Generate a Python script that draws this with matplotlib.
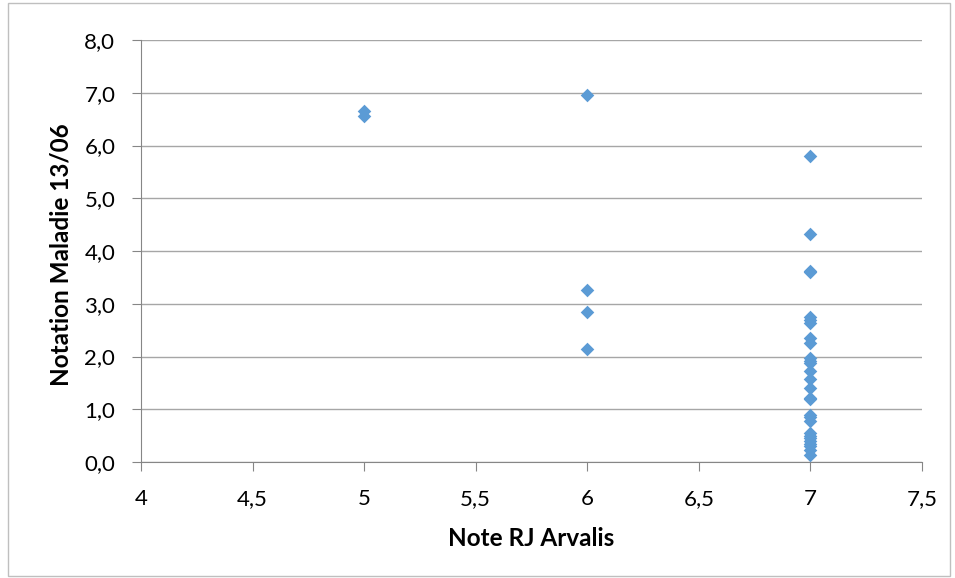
import matplotlib
matplotlib.use("Agg")
import matplotlib.pyplot as plt
from matplotlib.patches import Rectangle

x5 = [5, 5]
y5 = [6.65, 6.55]
x6 = [6, 6, 6, 6]
y6 = [6.95, 3.27, 2.85, 2.14]
y7 = [5.8, 4.32, 3.62, 3.6, 2.75, 2.7, 2.63, 2.35, 2.25, 1.97, 1.92, 1.88,
      1.72, 1.58, 1.4, 1.22, 1.2, 0.9, 0.85, 0.78, 0.55, 0.5, 0.45, 0.4,
      0.35, 0.3, 0.22, 0.14]
x7 = [7] * len(y7)

xs = x5 + x6 + x7
ys = y5 + y6 + y7

x_ticks = [4, 4.5, 5, 5.5, 6, 6.5, 7, 7.5]
x_labels = ["4", "4,5", "5", "5,5", "6", "6,5", "7", "7,5"]
y_ticks = [0, 1, 2, 3, 4, 5, 6, 7, 8]
y_labels = ["0,0", "1,0", "2,0", "3,0", "4,0", "5,0", "6,0", "7,0", "8,0"]

plt.rcParams['font.family'] = ['Lato', 'DejaVu Sans']

fig = plt.figure(figsize=(9.55, 5.78), dpi=100)
L, R, T, B = 141, 922, 40, 462
ax = fig.add_axes([L/955, 1 - B/578, (R-L)/955, (B-T)/578])

ax.scatter(xs, ys, marker='D', s=48, color='#5B9BD5', zorder=3, linewidths=0)

ax.set_xlim(4, 7.5)
ax.set_ylim(0, 8)
ax.set_xticks(x_ticks)
ax.set_xticklabels(x_labels, fontsize=16)
ax.set_yticks(y_ticks)
ax.set_yticklabels(y_labels, fontsize=16)
ax.yaxis.grid(True, color='#A6A6A6', linewidth=1)
ax.set_axisbelow(True)
for s in ['top', 'right']:
    ax.spines[s].set_visible(False)
for s in ['left', 'bottom']:
    ax.spines[s].set_color('#868686')
ax.tick_params(axis='x', direction='out', length=6.5, color='#868686', pad=13)
ax.tick_params(axis='y', direction='out', length=6.5, color='#868686', pad=12)

ax.set_xlabel("Note RJ Arvalis", fontsize=17.5, fontweight='bold')
ax.set_ylabel("Notation Maladie 13/06", fontsize=17.5, fontweight='bold')
ax.xaxis.label.set_va('center')
ax.yaxis.label.set_va('center')
ax.xaxis.set_label_coords(0.5, -(538 - B) / (B - T))
ax.yaxis.set_label_coords((61 - L) / (R - L), 0.5 - 4 / (B - T))

fig.patches.append(Rectangle((8/955, 2/578), 942/955, 573/578, transform=fig.transFigure,
                             fill=False, edgecolor='#BFBFBF', linewidth=1))

fig.savefig("out.png", dpi=100)
